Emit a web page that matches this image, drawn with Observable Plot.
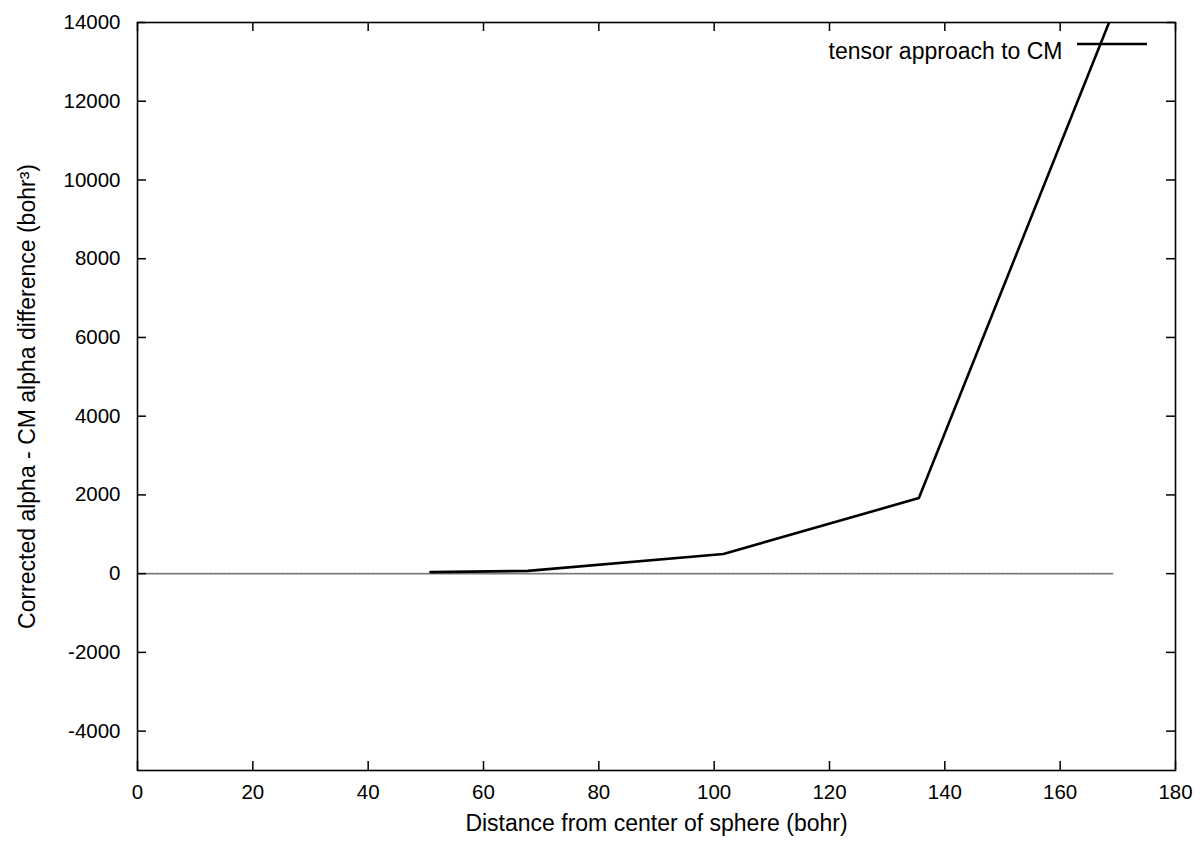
<!DOCTYPE html>
<html>
<head>
<meta charset="utf-8">
<script src="https://cdn.jsdelivr.net/npm/d3@7"></script>
<script src="https://cdn.jsdelivr.net/npm/@observablehq/plot@0.6"></script>
<style>
  html, body { margin: 0; padding: 0; background: white; }
  #chart { width: 1200px; height: 842px; }
</style>
</head>
<body>
<div id="chart"></div>
<script>
// ---- data ----
const distance = [50.8, 67.7, 101.6, 135.5, 169.3];
const alphaDiff = [40, 70, 500, 1920, 14300];
const refDistance = [0, 169.3];
const refDiff = [0, 0];
const seriesLabel = "tensor approach to CM";
const xTicks = [0, 20, 40, 60, 80, 100, 120, 140, 160, 180];
const yTicks = [-4000, -2000, 0, 2000, 4000, 6000, 8000, 10000, 12000, 14000];
const xTitle = "Distance from center of sphere (bohr)";
const yTitle = "Corrected alpha - CM alpha difference (bohr³)";

const mainData = distance.map((d, i) => ({x: d, y: alphaDiff[i]}));
const refData = refDistance.map((d, i) => ({x: d, y: refDiff[i]}));

const W = 1200, H = 842;
const mL = 137, mR = 25, mT = 22, mB = 72;
const pw = W - mL - mR, ph = H - mT - mB;
const tick = 9;

const chart = Plot.plot({
  width: W, height: H,
  marginLeft: mL, marginRight: mR, marginTop: mT, marginBottom: mB,
  x: {domain: [0, 180]},
  y: {domain: [-5000, 14000]},
  style: {fontFamily: "'Liberation Sans', Arial, sans-serif", fontSize: "20.5px", color: "black", background: "white"},
  marks: [
    Plot.line(refData, {x: "x", y: "y", stroke: "#7a7a7a", strokeWidth: 1.7, strokeDasharray: "3,1.5"}),
    Plot.line(mainData, {x: "x", y: "y", stroke: "black", strokeWidth: 2.6, clip: true}),
    Plot.ruleX(xTicks, {x: d => d, insetTop: ph - tick, strokeWidth: 1.5}),
    Plot.ruleX(xTicks, {x: d => d, insetBottom: ph - tick, strokeWidth: 1.5}),
    Plot.ruleY(yTicks, {y: d => d, insetRight: pw - tick, strokeWidth: 1.5}),
    Plot.ruleY(yTicks, {y: d => d, insetLeft: pw - tick, strokeWidth: 1.5}),
    Plot.frame({stroke: "black", strokeWidth: 1.6}),
    Plot.axisX(xTicks, {tickSize: 0, tickPadding: 14, label: null, tickFormat: d => String(d)}),
    Plot.axisY(yTicks, {tickSize: 0, tickPadding: 17, label: null, tickFormat: d => String(d)}),
    Plot.text([xTitle], {text: d => d, frameAnchor: "bottom", textAnchor: "middle", dy: 60, fontSize: 23}),
    Plot.text([yTitle], {text: d => d, frameAnchor: "left", textAnchor: "middle", rotate: -90, dx: -110, fontSize: 23}),
    Plot.text([seriesLabel], {text: d => d, frameAnchor: "top-right", textAnchor: "end", dx: -113, dy: 20, fontSize: 23})
  ]
});

// legend sample line (black, same style as the series)
d3.select(chart).append("line")
  .attr("x1", W - mR - 98).attr("x2", W - mR - 28)
  .attr("y1", mT + 22).attr("y2", mT + 22)
  .attr("stroke", "black").attr("stroke-width", 2.6);

document.getElementById("chart").appendChild(chart);
</script>
</body>
</html>
